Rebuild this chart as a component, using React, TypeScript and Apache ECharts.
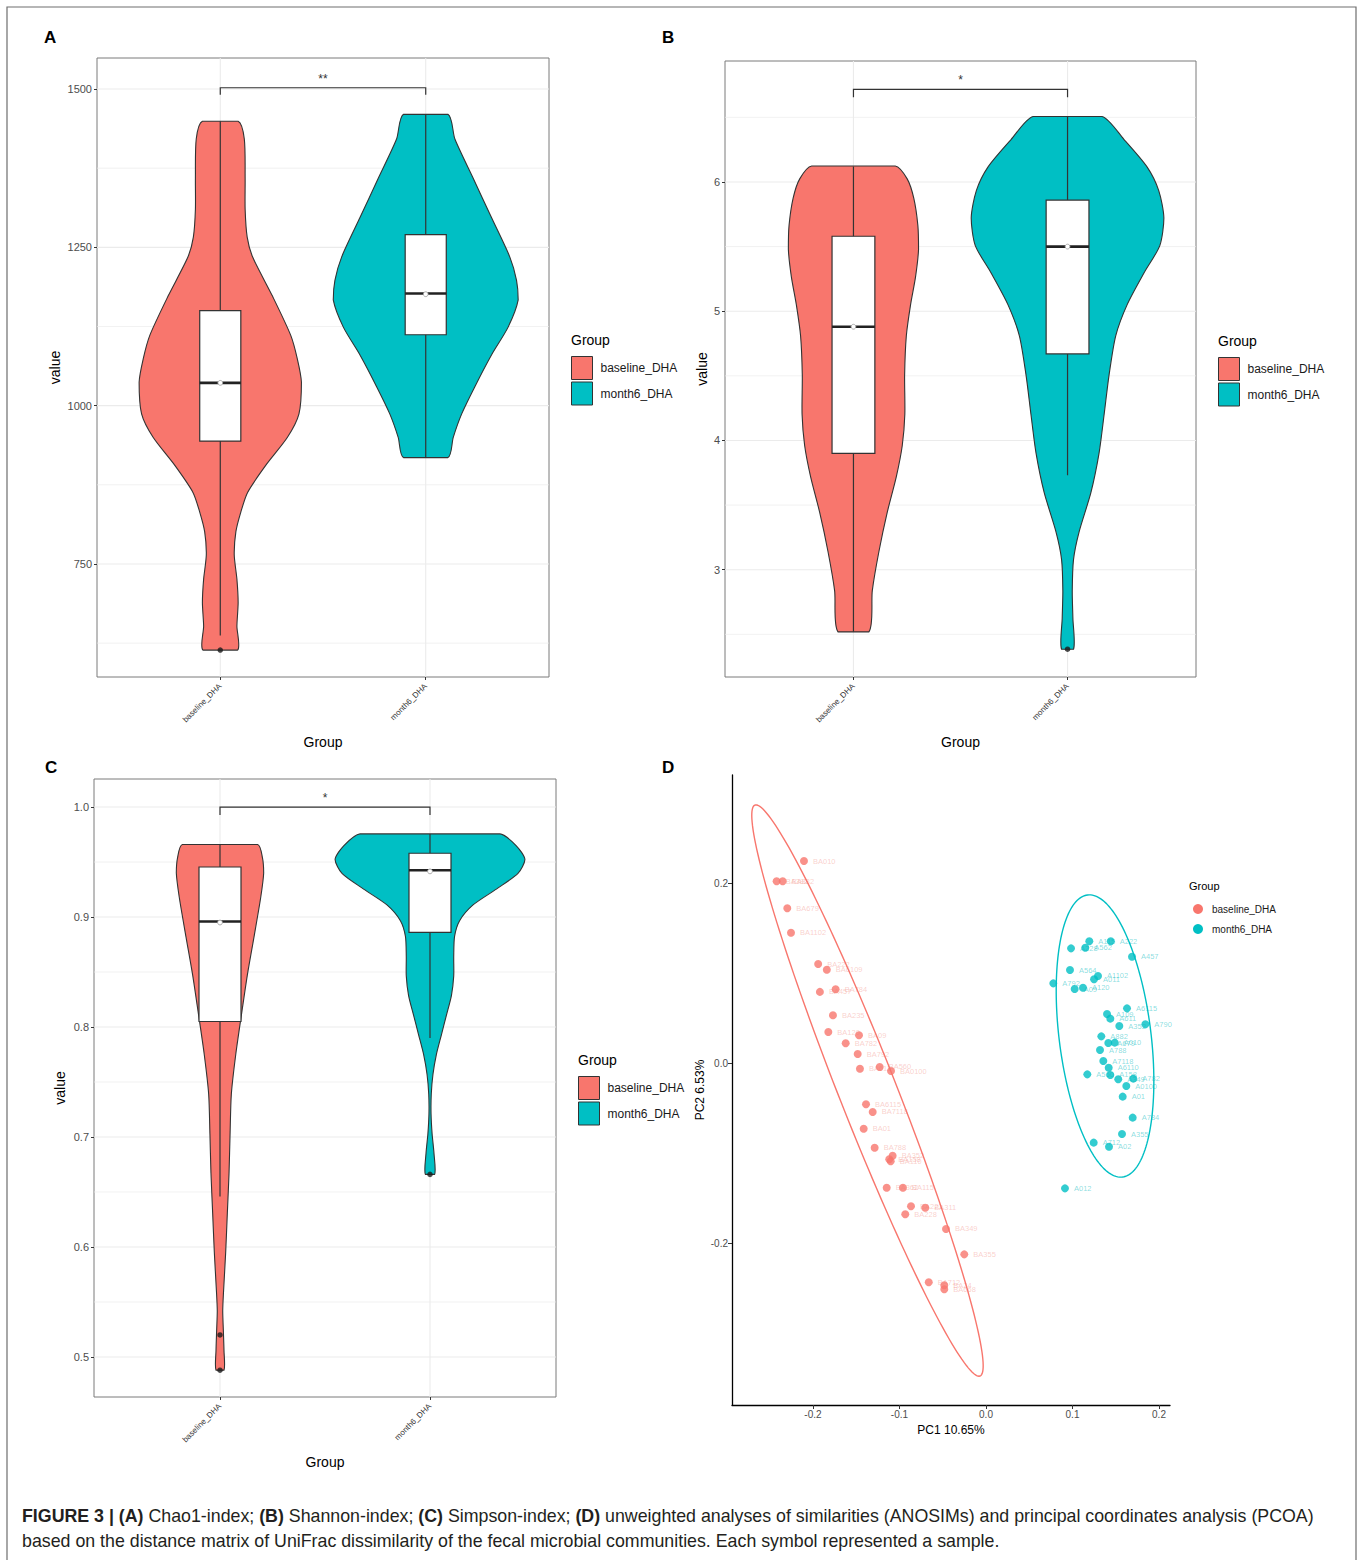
import React, { useEffect, useRef } from "react";
import * as echarts from "echarts";

// ---------- shared ----------
const groups = ["baseline_DHA", "month6_DHA"];
const groupColors = ["#F8766D", "#00BFC4"];

// ---------- Panel A: Chao1 ----------
const chaoTicks = [750, 1000, 1250, 1500];
const chaoMinorTicks = [625, 875, 1125, 1375];
const chaoBaselineValues = [1449, 1421, 1359, 1310, 1266, 1235, 1173, 1111, 1074, 1037, 987, 950, 906, 863, 832, 801, 764, 726, 689, 652, 614];
const chaoBaselineDensity = [0.087, 0.117, 0.121, 0.121, 0.131, 0.157, 0.254, 0.343, 0.375, 0.395, 0.383, 0.327, 0.222, 0.133, 0.1, 0.076, 0.068, 0.081, 0.087, 0.081, 0.084];
const chaoMonth6Values = [1460, 1421, 1359, 1297, 1235, 1198, 1167, 1124, 1080, 1030, 987, 950, 918];
const chaoMonth6Density = [0.108, 0.142, 0.231, 0.32, 0.409, 0.442, 0.45, 0.401, 0.32, 0.239, 0.175, 0.134, 0.108];
// [lower whisker, Q1, median, Q3, upper whisker]
const chaoBaselineBox = [637, 944, 1036, 1150, 1449];
const chaoMonth6Box = [918, 1112, 1177, 1270, 1460];
const chaoMeans = [1036, 1176];
const chaoOutliers = [[1, 614]];
const chaoBracket = [1491, 1502];
const chaoSignif = "**";

// ---------- Panel B: Shannon ----------
const shannonTicks = [3, 4, 5, 6];
const shannonMinorTicks = [2.5, 3.5, 4.5, 5.5, 6.5];
const shannonBaselineValues = [6.124, 6.024, 5.873, 5.66, 5.478, 5.266, 5.053, 4.81, 4.507, 4.203, 3.961, 3.718, 3.445, 3.141, 2.838, 2.519];
const shannonBaselineDensity = [0.195, 0.251, 0.282, 0.301, 0.304, 0.29, 0.267, 0.247, 0.239, 0.24, 0.228, 0.2, 0.158, 0.119, 0.088, 0.072];
const shannonMonth6Values = [6.507, 6.328, 6.115, 5.933, 5.721, 5.508, 5.296, 5.053, 4.81, 4.507, 4.203, 3.9, 3.596, 3.293, 3.08, 2.838, 2.625, 2.385];
const shannonMonth6Density = [0.161, 0.264, 0.372, 0.426, 0.45, 0.431, 0.357, 0.279, 0.225, 0.194, 0.171, 0.147, 0.109, 0.054, 0.028, 0.022, 0.025, 0.028];
const shannonBaselineBox = [2.52, 3.9, 4.88, 5.58, 6.12];
const shannonMonth6Box = [3.73, 4.67, 5.5, 5.86, 6.51];
const shannonMeans = [4.88, 5.5];
const shannonOutliers = [[2, 2.385]];
const shannonBracket = [6.656, 6.716];
const shannonSignif = "*";

// ---------- Panel C: Simpson ----------
const simpsonTicks = [0.5, 0.6, 0.7, 0.8, 0.9, 1.0];
const simpsonMinorTicks = [0.55, 0.65, 0.75, 0.85, 0.95];
const simpsonBaselineValues = [0.966, 0.954, 0.94, 0.918, 0.882, 0.847, 0.811, 0.775, 0.739, 0.703, 0.667, 0.631, 0.595, 0.56, 0.542, 0.524, 0.506, 0.488];
const simpsonBaselineDensity = [0.179, 0.202, 0.208, 0.194, 0.162, 0.13, 0.102, 0.075, 0.054, 0.048, 0.043, 0.035, 0.027, 0.017, 0.013, 0.016, 0.019, 0.019];
const simpsonMonth6Values = [0.9756, 0.9648, 0.9523, 0.9397, 0.9254, 0.911, 0.8967, 0.8824, 0.8644, 0.8465, 0.8286, 0.8106, 0.7927, 0.7747, 0.7568, 0.7389, 0.7209, 0.703, 0.6851, 0.666];
const simpsonMonth6Density = [0.333, 0.411, 0.452, 0.419, 0.316, 0.205, 0.141, 0.117, 0.113, 0.113, 0.102, 0.078, 0.054, 0.03, 0.014, 0.006, 0.005, 0.01, 0.019, 0.022];
const simpsonBaselineBox = [0.646, 0.805, 0.896, 0.9455, 0.966];
const simpsonMonth6Box = [0.79, 0.886, 0.9426, 0.958, 0.9756];
const simpsonMeans = [0.895, 0.9415];
const simpsonOutliers = [[1, 0.52], [1, 0.488], [2, 0.666]];
const simpsonBracket = [0.9928, 1.0];
const simpsonSignif = "*";

// ---------- Panel D: PCoA ----------
const pcoaTicksX = [-0.2, -0.1, 0, 0.1, 0.2];
const pcoaTicksY = [-0.2, 0, 0.2];
const pcoaBaselineIds = ["BA010", "BA382", "BA882", "BA679", "BA1102", "BA222", "BA6109", "BA457", "BA784", "BA235", "BA120", "BA09", "BA782", "BA792", "BA611", "BA560", "BA0100", "BA6115", "BA7118", "BA01", "BA788", "BA352", "BA158", "BA110", "BA362", "BA115", "BA221", "BA311", "BA228", "BA349", "BA355", "BA712", "BA24", "BA668"];
const pcoaBaselinePC1 = [-0.2104, -0.242, -0.235, -0.2297, -0.2254, -0.194, -0.184, -0.192, -0.1738, -0.1769, -0.1823, -0.1468, -0.1622, -0.1483, -0.1457, -0.1229, -0.1098, -0.1387, -0.131, -0.1414, -0.1287, -0.1079, -0.1118, -0.1102, -0.1148, -0.096, -0.0867, -0.0702, -0.0933, -0.0462, -0.0251, -0.0662, -0.0482, -0.0482];
const pcoaBaselinePC2 = [0.2244, 0.202, 0.202, 0.172, 0.1448, 0.11, 0.1037, 0.079, 0.0819, 0.053, 0.0344, 0.0308, 0.0219, 0.01, -0.0063, -0.0044, -0.0089, -0.0459, -0.0544, -0.073, -0.0941, -0.103, -0.107, -0.1092, -0.1386, -0.1386, -0.1592, -0.1608, -0.1681, -0.1844, -0.2126, -0.2437, -0.247, -0.2514];
const pcoaMonth6Ids = ["A115", "A222", "A228", "A562", "A457", "A564", "A011", "A1102", "A792", "A09", "A120", "A6115", "A109", "A611", "A352", "A790", "A882", "A679", "A010", "A788", "A7118", "A6110", "A158", "A560", "A349", "A782", "A0100", "A01", "A784", "A355", "A712", "A02", "A012"];
const pcoaMonth6PC1 = [0.1194, 0.1442, 0.0983, 0.1148, 0.1688, 0.0971, 0.1249, 0.1295, 0.0778, 0.1025, 0.1121, 0.163, 0.1399, 0.1437, 0.1541, 0.1842, 0.1333, 0.1414, 0.1488, 0.1318, 0.1356, 0.1418, 0.1437, 0.1171, 0.1529, 0.1703, 0.1622, 0.158, 0.1696, 0.1572, 0.1245, 0.1422, 0.0913];
const pcoaMonth6PC2 = [0.1352, 0.1352, 0.1274, 0.1281, 0.1181, 0.1033, 0.093, 0.0967, 0.0885, 0.0822, 0.0837, 0.0607, 0.0544, 0.0493, 0.0411, 0.043, 0.0296, 0.0222, 0.0226, 0.0144, 0.0022, -0.0052, -0.0133, -0.0126, -0.0181, -0.0174, -0.0256, -0.0374, -0.0607, -0.0789, -0.0885, -0.093, -0.1393];
// 95% ellipses: centre and two conjugate semi-axis vectors (data units)
const pcoaEllipseCenter = [[-0.137, -0.0306], [0.1376, 0.03]];
const pcoaEllipseAxisA = [[-0.1301, 0.3172], [-0.0202, 0.1567]];
const pcoaEllipseAxisB = [[0.031, 0.01173], [0.0527, 0.00629]];

// ---------- caption ----------
const captionLine1 = "{b|FIGURE 3 | (A)} Chao1-index; {b|(B)} Shannon-index; {b|(C)} Simpson-index; {b|(D)} unweighted analyses of similarities (ANOSIMs) and principal coordinates analysis (PCOA)";
const captionLine2 = "based on the distance matrix of UniFrac dissimilarity of the fecal microbial communities. Each symbol represented a sample.";

// ---------- layout ----------
const FONT = '"Liberation Sans", Arial, Helvetica, sans-serif';
const DARK = "#333333";
const TICKGREY = "#4d4d4d";

function violinSeries(name: string, gi: number, cat: number, values: number[], density: number[], box: number[], mean: number, color: string) {
  return {
    type: "custom",
    name,
    xAxisIndex: gi,
    yAxisIndex: gi,
    z: 3,
    itemStyle: { color },
    data: [[cat, box[2]]],
    renderItem: (params: any, api: any) => {
      const left = values.map((v, i) => api.coord([cat - density[i], v]));
      const right = values.map((v, i) => api.coord([cat + density[i], v])).reverse();
      const pts = left.concat(right);
      let minX = Infinity, minY = Infinity, maxX = -Infinity, maxY = -Infinity;
      pts.forEach((p: number[]) => {
        minX = Math.min(minX, p[0]); maxX = Math.max(maxX, p[0]);
        minY = Math.min(minY, p[1]); maxY = Math.max(maxY, p[1]);
      });
      const bw = 0.1;
      const q1 = api.coord([cat - bw, box[1]]);
      const q3 = api.coord([cat + bw, box[3]]);
      const wl = api.coord([cat, box[0]]);
      const wh = api.coord([cat, box[4]]);
      const m1 = api.coord([cat - bw, box[2]]);
      const m2 = api.coord([cat + bw, box[2]]);
      const mc = api.coord([cat, mean]);
      return {
        type: "group",
        children: [
          {
            type: "polygon",
            shape: { points: pts, smooth: 0.25, smoothConstraint: [[minX, minY], [maxX, maxY]] },
            style: { fill: color, stroke: DARK, lineWidth: 1.1 },
          },
          { type: "line", shape: { x1: wl[0], y1: wl[1], x2: wh[0], y2: wh[1] }, style: { stroke: DARK, lineWidth: 1.2 } },
          {
            type: "rect",
            shape: { x: q1[0], y: q3[1], width: q3[0] - q1[0], height: q1[1] - q3[1] },
            style: { fill: "#ffffff", stroke: DARK, lineWidth: 1.2 },
          },
          { type: "line", shape: { x1: m1[0], y1: m1[1], x2: m2[0], y2: m2[1] }, style: { stroke: "#222", lineWidth: 2.6 } },
          { type: "circle", shape: { cx: mc[0], cy: mc[1], r: 2.4 }, style: { fill: "#ffffff", stroke: "#9a9a9a", lineWidth: 0.8 } },
        ],
      };
    },
  };
}

function gridLineSeries(gi: number, major: number[], minor: number[], yRef: number) {
  const data: number[][] = [];
  major.forEach((v) => data.push([0, v, 1]));
  minor.forEach((v) => data.push([0, v, 0]));
  [1, 2].forEach((c) => data.push([1, c, 1]));
  return {
    type: "custom",
    xAxisIndex: gi,
    yAxisIndex: gi,
    z: 1,
    silent: true,
    data,
    renderItem: (params: any, api: any) => {
      const cs = params.coordSys;
      const o = api.value(0);
      const v = api.value(1);
      const w = api.value(2);
      if (o === 0) {
        const p = api.coord([1, v]);
        return { type: "line", shape: { x1: cs.x, y1: p[1], x2: cs.x + cs.width, y2: p[1] }, style: { stroke: "#ebebeb", lineWidth: w ? 1.1 : 0.7 } };
      }
      const p = api.coord([v, yRef]);
      return { type: "line", shape: { x1: p[0], y1: cs.y, x2: p[0], y2: cs.y + cs.height }, style: { stroke: "#ebebeb", lineWidth: 1.1 } };
    },
  };
}

function bracketSeries(gi: number, bracket: number[], label: string) {
  return {
    type: "custom",
    xAxisIndex: gi,
    yAxisIndex: gi,
    z: 4,
    silent: true,
    data: [[1.5, bracket[1]]],
    renderItem: (params: any, api: any) => {
      const a0 = api.coord([1, bracket[0]]);
      const a1 = api.coord([1, bracket[1]]);
      const b1 = api.coord([2, bracket[1]]);
      const b0 = api.coord([2, bracket[0]]);
      return {
        type: "group",
        children: [
          { type: "polyline", shape: { points: [a0, a1, b1, b0] }, style: { stroke: DARK, lineWidth: 1.2, fill: "none" } },
          {
            type: "text",
            x: (a1[0] + b1[0]) / 2,
            y: a1[1] - 3,
            style: { text: label, fontSize: 12, fill: DARK, fontFamily: FONT, align: "center", verticalAlign: "bottom", textAlign: "center", textVerticalAlign: "bottom" },
          },
        ],
      };
    },
  };
}

function outlierSeries(gi: number, outliers: number[][]) {
  return {
    type: "scatter",
    xAxisIndex: gi,
    yAxisIndex: gi,
    z: 5,
    silent: true,
    symbolSize: 5.5,
    itemStyle: { color: "#1a1a1a" },
    data: outliers,
  };
}

function catXAxis(gi: number) {
  return {
    type: "value",
    gridIndex: gi,
    min: 0.4,
    max: 2.6,
    name: "Group",
    nameLocation: "middle",
    nameGap: 58,
    nameTextStyle: { fontSize: 14, color: "#000", fontFamily: FONT, verticalAlign: "top" },
    axisLine: { show: false, onZero: false },
    splitLine: { show: false },
    axisTick: { show: true, length: 3, customValues: [1, 2], lineStyle: { color: DARK, width: 1 } },
    axisLabel: {
      customValues: [1, 2],
      formatter: (v: number) => groups[Math.round(v) - 1],
      rotate: 45,
      fontSize: 8,
      color: DARK,
      margin: 8,
      fontFamily: FONT,
    },
  };
}

function valYAxis(gi: number, min: number, max: number, ticks: number[], fmt: (v: number) => string, nameGap: number) {
  return {
    type: "value",
    gridIndex: gi,
    min,
    max,
    name: "value",
    nameLocation: "middle",
    nameGap,
    nameTextStyle: { fontSize: 14, color: "#000", fontFamily: FONT },
    axisLine: { show: false, onZero: false },
    splitLine: { show: false },
    axisTick: { show: true, length: 3, customValues: ticks, lineStyle: { color: DARK, width: 1 } },
    axisLabel: { customValues: ticks, formatter: fmt, fontSize: 11, color: TICKGREY, margin: 5, fontFamily: FONT },
  };
}

function boxLegend(left: number, top: number) {
  return {
    left,
    top,
    orient: "vertical",
    padding: 0,
    itemWidth: 21,
    itemHeight: 23,
    itemGap: 1.5,
    selectedMode: false,
    data: groups.map((g, i) => ({ name: g, icon: "rect", itemStyle: { color: groupColors[i], borderColor: DARK, borderWidth: 1 } })),
    textStyle: { fontSize: 12, color: "#1a1a1a", fontFamily: FONT, padding: [0, 0, 0, 3] },
  };
}

function ellipseSeries(gi: number, idx: number) {
  const c = pcoaEllipseCenter[idx];
  const a = pcoaEllipseAxisA[idx];
  const b = pcoaEllipseAxisB[idx];
  return {
    type: "custom",
    xAxisIndex: gi,
    yAxisIndex: gi,
    z: 2,
    silent: true,
    data: [c],
    renderItem: (params: any, api: any) => {
      const pts: number[][] = [];
      const n = 180;
      for (let k = 0; k < n; k++) {
        const t = (k / n) * Math.PI * 2;
        pts.push(api.coord([c[0] + a[0] * Math.cos(t) + b[0] * Math.sin(t), c[1] + a[1] * Math.cos(t) + b[1] * Math.sin(t)]));
      }
      return { type: "polygon", shape: { points: pts }, style: { fill: "none", stroke: groupColors[idx], lineWidth: 1.4 } };
    },
  };
}

function pcoaSeries(gi: number, idx: number, ids: string[], pc1: number[], pc2: number[], labelColor: string) {
  return {
    type: "scatter",
    name: groups[idx],
    xAxisIndex: gi,
    yAxisIndex: gi,
    z: 4,
    symbolSize: 8,
    itemStyle: { color: groupColors[idx] },
    label: { show: true, formatter: "{b}", position: "right", distance: 5, offset: [-7, 4], fontSize: 7.5, color: labelColor, fontFamily: FONT },
    labelLayout: { hideOverlap: false },
    data: pc1.map((x, i) => ({ name: ids[i], value: [x, pc2[i]] })),
  };
}

const fmtInt = (v: number) => String(Math.round(v));
const fmt1 = (v: number) => (Math.round(v * 10) / 10).toFixed(1);

const option: any = {
  animation: false,
  backgroundColor: "#ffffff",
  textStyle: { fontFamily: FONT },
  title: [
    { text: "A", left: 44, top: 29, padding: 0, textStyle: { fontSize: 17, fontWeight: "bold", color: "#000", fontFamily: FONT } },
    { text: "B", left: 662, top: 29, padding: 0, textStyle: { fontSize: 17, fontWeight: "bold", color: "#000", fontFamily: FONT } },
    { text: "C", left: 45, top: 759, padding: 0, textStyle: { fontSize: 17, fontWeight: "bold", color: "#000", fontFamily: FONT } },
    { text: "D", left: 662, top: 759, padding: 0, textStyle: { fontSize: 17, fontWeight: "bold", color: "#000", fontFamily: FONT } },
    { text: "Group", left: 571, top: 333, padding: 0, textStyle: { fontSize: 14, fontWeight: "normal", color: "#000", fontFamily: FONT } },
    { text: "Group", left: 1218, top: 334, padding: 0, textStyle: { fontSize: 14, fontWeight: "normal", color: "#000", fontFamily: FONT } },
    { text: "Group", left: 578, top: 1053, padding: 0, textStyle: { fontSize: 14, fontWeight: "normal", color: "#000", fontFamily: FONT } },
    { text: "Group", left: 1189, top: 880, padding: 0, textStyle: { fontSize: 11, fontWeight: "normal", color: "#000", fontFamily: FONT } },
  ],
  legend: [
    boxLegend(571, 356),
    boxLegend(1218, 357),
    boxLegend(578, 1076),
    {
      left: 1193,
      top: 904,
      orient: "vertical",
      padding: 0,
      itemWidth: 10,
      itemHeight: 10,
      itemGap: 10,
      selectedMode: false,
      data: groups.map((g, i) => ({ name: g, icon: "circle", itemStyle: { color: groupColors[i], borderWidth: 0 } })),
      textStyle: { fontSize: 10, color: "#1a1a1a", fontFamily: FONT, padding: [0, 0, 0, 4] },
    },
  ],
  grid: [
    { left: 97, top: 58, width: 452, height: 619, show: true, borderColor: "#7a7a7a", borderWidth: 1, backgroundColor: "transparent", outerBoundsMode: "none" },
    { left: 725, top: 61, width: 471, height: 616, show: true, borderColor: "#7a7a7a", borderWidth: 1, backgroundColor: "transparent", outerBoundsMode: "none" },
    { left: 94, top: 779, width: 462, height: 618, show: true, borderColor: "#7a7a7a", borderWidth: 1, backgroundColor: "transparent", outerBoundsMode: "none" },
    { left: 732, top: 775, width: 438, height: 630, show: false, outerBoundsMode: "none" },
  ],
  xAxis: [
    catXAxis(0),
    catXAxis(1),
    catXAxis(2),
    {
      type: "value",
      gridIndex: 3,
      min: -0.2936,
      max: 0.2127,
      name: "PC1 10.65%",
      nameLocation: "middle",
      nameGap: 19,
      nameTextStyle: { fontSize: 12, color: "#000", fontFamily: FONT, verticalAlign: "top" },
      axisLine: { show: true, onZero: false, lineStyle: { color: "#000", width: 1.3 } },
      splitLine: { show: false },
      axisTick: { show: true, length: 4, customValues: pcoaTicksX, lineStyle: { color: DARK } },
      axisLabel: { customValues: pcoaTicksX, formatter: fmt1, fontSize: 10, color: TICKGREY, margin: 4, fontFamily: FONT },
    },
  ],
  yAxis: [
    valYAxis(0, 571.5, 1549, chaoTicks, fmtInt, 35),
    valYAxis(1, 2.17, 6.936, shannonTicks, fmtInt, 16),
    valYAxis(2, 0.4636, 1.0255, simpsonTicks, fmt1, 27),
    {
      type: "value",
      gridIndex: 3,
      min: -0.38,
      max: 0.32,
      name: "PC2 6.53%",
      nameLocation: "middle",
      nameGap: 26,
      nameTextStyle: { fontSize: 12, color: "#000", fontFamily: FONT },
      axisLine: { show: true, onZero: false, lineStyle: { color: "#000", width: 1.3 } },
      splitLine: { show: false },
      axisTick: { show: true, length: 4, customValues: pcoaTicksY, lineStyle: { color: DARK } },
      axisLabel: { customValues: pcoaTicksY, formatter: fmt1, fontSize: 10, color: TICKGREY, margin: 4, fontFamily: FONT },
    },
  ],
  series: [
    gridLineSeries(0, chaoTicks, chaoMinorTicks, 1000),
    gridLineSeries(1, shannonTicks, shannonMinorTicks, 4),
    gridLineSeries(2, simpsonTicks, simpsonMinorTicks, 0.8),
    violinSeries(groups[0], 0, 1, chaoBaselineValues, chaoBaselineDensity, chaoBaselineBox, chaoMeans[0], groupColors[0]),
    violinSeries(groups[1], 0, 2, chaoMonth6Values, chaoMonth6Density, chaoMonth6Box, chaoMeans[1], groupColors[1]),
    violinSeries(groups[0], 1, 1, shannonBaselineValues, shannonBaselineDensity, shannonBaselineBox, shannonMeans[0], groupColors[0]),
    violinSeries(groups[1], 1, 2, shannonMonth6Values, shannonMonth6Density, shannonMonth6Box, shannonMeans[1], groupColors[1]),
    violinSeries(groups[0], 2, 1, simpsonBaselineValues, simpsonBaselineDensity, simpsonBaselineBox, simpsonMeans[0], groupColors[0]),
    violinSeries(groups[1], 2, 2, simpsonMonth6Values, simpsonMonth6Density, simpsonMonth6Box, simpsonMeans[1], groupColors[1]),
    outlierSeries(0, chaoOutliers),
    outlierSeries(1, shannonOutliers),
    outlierSeries(2, simpsonOutliers),
    bracketSeries(0, chaoBracket, chaoSignif),
    bracketSeries(1, shannonBracket, shannonSignif),
    bracketSeries(2, simpsonBracket, simpsonSignif),
    ellipseSeries(3, 0),
    ellipseSeries(3, 1),
    pcoaSeries(3, 0, pcoaBaselineIds, pcoaBaselinePC1, pcoaBaselinePC2, "rgba(240,120,110,0.45)"),
    pcoaSeries(3, 1, pcoaMonth6Ids, pcoaMonth6PC1, pcoaMonth6PC2, "rgba(0,185,190,0.6)"),
  ],
  graphic: [
    {
      type: "rect",
      silent: true,
      z: -10,
      shape: { x: 7, y: 7, width: 1349, height: 1600 },
      style: { fill: "none", stroke: "#6e6e6e", lineWidth: 1.2 },
    },
    {
      type: "text",
      left: 22,
      top: 1507,
      silent: true,
      style: {
        text: captionLine1,
        fontSize: 17.8,
        fontFamily: FONT,
        fill: "#231f20",
        rich: { b: { fontSize: 17.8, fontWeight: "bold", fontFamily: FONT, fill: "#231f20" } },
      },
    },
    {
      type: "text",
      left: 22,
      top: 1532,
      silent: true,
      style: {
        text: captionLine2,
        fontSize: 17.8,
        fontFamily: FONT,
        fill: "#231f20",
      },
    },
  ],
};

export default function App() {
  const ref = useRef<HTMLDivElement>(null);
  useEffect(() => {
    if (!ref.current) return;
    const chart = echarts.init(ref.current, null, { renderer: "svg", width: 1360, height: 1560 });
    chart.setOption(option);
    return () => chart.dispose();
  }, []);
  return <div ref={ref} style={{ position: "absolute", left: 0, top: 0, width: 1360, height: 1560, background: "#fff" }} />;
}
